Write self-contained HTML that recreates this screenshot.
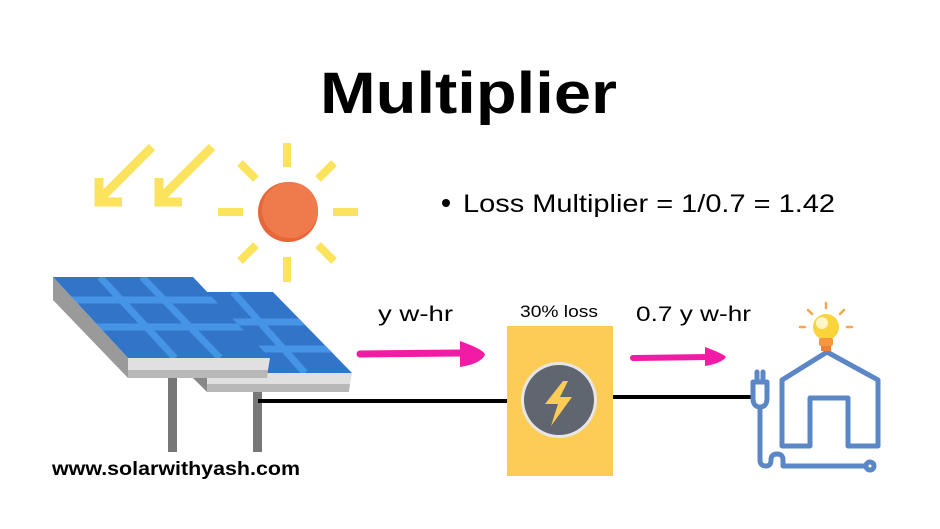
<!DOCTYPE html>
<html><head><meta charset="utf-8"><style>
body{margin:0;background:#fff;}
svg{display:block}
text{font-family:"Liberation Sans",sans-serif;}
</style></head><body>
<svg width="940" height="529" viewBox="0 0 940 529">
<defs>
<clipPath id="bp"><polygon points="195,292 273,292 352,373 207,373 195,360"/></clipPath>
<clipPath id="fp"><polygon points="53,277 193,277 270,358 128,358"/></clipPath>
</defs>
<text x="320" y="113" font-size="58" font-weight="bold" fill="#000" textLength="297" lengthAdjust="spacingAndGlyphs">Multiplier</text>
<circle cx="446" cy="203" r="4" fill="#000"/>
<text x="463" y="212" font-size="25" fill="#000" textLength="372" lengthAdjust="spacingAndGlyphs">Loss Multiplier = 1/0.7 = 1.42</text>
<!-- yellow arrows -->
<g stroke="#fbe35e" stroke-width="9" fill="none" stroke-linecap="butt">
<path d="M152 147 L99 200 M99 178 L99 202 L122 202"/>
<path d="M212 147 L159 200 M159 178 L159 202 L182 202"/>
</g>
<!-- sun -->
<g stroke="#fbe35e" stroke-width="8">
<line x1="287" y1="143" x2="287" y2="167"/><line x1="287" y1="257" x2="287" y2="282"/>
<line x1="218" y1="212" x2="243" y2="212"/><line x1="333" y1="212" x2="358" y2="212"/>
<line x1="240" y1="163" x2="256" y2="179"/><line x1="318" y1="245" x2="334" y2="261"/>
<line x1="240" y1="261" x2="256" y2="245"/><line x1="318" y1="179" x2="334" y2="163"/>
</g>
<circle cx="288" cy="212" r="30" fill="#e86637"/>
<circle cx="290" cy="210" r="28" fill="#ef7b4c"/>
<!-- posts -->
<rect x="168" y="375" width="9" height="77" fill="#777"/>
<rect x="253" y="390" width="9" height="62" fill="#777"/>
<!-- wires -->
<line x1="258" y1="401" x2="510" y2="401" stroke="#000" stroke-width="4"/>
<line x1="610" y1="397" x2="752" y2="397" stroke="#000" stroke-width="4"/>
<!-- back panel -->
<polygon points="195,292 273,292 352,373 207,373 195,360" fill="#3174c8"/>
<g stroke="#4594e6" stroke-width="7" clip-path="url(#bp)">
<line x1="233" y1="292" x2="305" y2="373"/><line x1="190" y1="322" x2="320" y2="322"/><line x1="210" y1="349" x2="345" y2="349"/>
</g>
<polygon points="207,373 352,373 350,384 207,384" fill="#e0e0e0"/>
<polygon points="207,384 350,384 349,392 207,392" fill="#b8b8b8"/>
<polygon points="193,360 207,373 207,392 193,378" fill="#888"/>
<!-- front panel -->
<polygon points="53,277 193,277 270,358 128,358" fill="#3174c8"/>
<g stroke="#4594e6" stroke-width="7" clip-path="url(#fp)">
<line x1="100" y1="277" x2="175" y2="358"/><line x1="142" y1="277" x2="220" y2="358"/>
<line x1="50" y1="300" x2="240" y2="300"/><line x1="50" y1="327" x2="260" y2="327"/>
</g>
<polygon points="53,277 128,358 128,378 53,300" fill="#9a9a9a"/>
<polygon points="128,358 270,358 268,370 128,370" fill="#e0e0e0"/>
<polygon points="128,370 268,370 267,378 128,378" fill="#b8b8b8"/>
<!-- labels -->
<text x="378" y="321" font-size="21" fill="#000" textLength="75" lengthAdjust="spacingAndGlyphs">y w-hr</text>
<text x="520" y="317" font-size="17" fill="#000" textLength="78" lengthAdjust="spacingAndGlyphs">30% loss</text>
<text x="636" y="321" font-size="21" fill="#000" textLength="115" lengthAdjust="spacingAndGlyphs">0.7 y w-hr</text>
<!-- pink arrows -->
<line x1="360" y1="354" x2="462" y2="353" stroke="#f21ba6" stroke-width="7" stroke-linecap="round"/>
<path d="M460 341 Q485 350 485 355 Q480 364 460 367 Z" fill="#f21ba6"/>
<line x1="633" y1="358" x2="710" y2="357" stroke="#f21ba6" stroke-width="6" stroke-linecap="round"/>
<path d="M705 347 Q724 354 726 357 Q722 363 705 366 Z" fill="#f21ba6"/>
<!-- box -->
<rect x="507" y="326" width="106" height="150" fill="#fdcc55"/>
<circle cx="559" cy="400" r="38" fill="#e6e6e6"/>
<circle cx="559" cy="400" r="35" fill="#5f6670"/>
<polygon points="563,381 545,404 558,404 551,426 572,397 560,397 568,381" fill="#fdcc55"/>
<!-- house -->
<g stroke="#5b87c7" stroke-width="5" fill="none" stroke-linejoin="round" stroke-linecap="round">
<path d="M782 446 L782 380 L827 352 L878 380 L878 446 L848 446 L848 398 L810 398 L810 446 Z"/>
<path d="M757 380 L757 372 M763 380 L763 372"/>
<path d="M753 382 L767 382 L767 398 Q767 407 760 407 Q753 407 753 398 Z"/>
<path d="M760 407 L760 460 Q760 466 766 466 Q771 466 771 460 Q771 454 777 454 Q783 454 783 460 L783 466 L866 466"/>
<circle cx="870" cy="466" r="4"/>
</g>
<!-- bulb -->
<g stroke="#f7a84a" stroke-width="2.5" stroke-linecap="round">
<line x1="826" y1="303" x2="826" y2="308"/><line x1="808" y1="310" x2="812" y2="314"/><line x1="844" y1="310" x2="840" y2="314"/>
<line x1="800" y1="327" x2="805" y2="327"/><line x1="847" y1="327" x2="852" y2="327"/>
</g>
<circle cx="826" cy="327" r="13" fill="#fbd33a"/>
<circle cx="822" cy="323" r="6" fill="#fff6c8"/>
<rect x="819" y="338" width="14" height="8" rx="2" fill="#f7973a"/>
<rect x="821" y="346" width="10" height="5" fill="#f08030"/>
<text x="52" y="475" font-size="19" font-weight="bold" fill="#000" textLength="248" lengthAdjust="spacingAndGlyphs">www.solarwithyash.com</text>
</svg>
</body></html>
